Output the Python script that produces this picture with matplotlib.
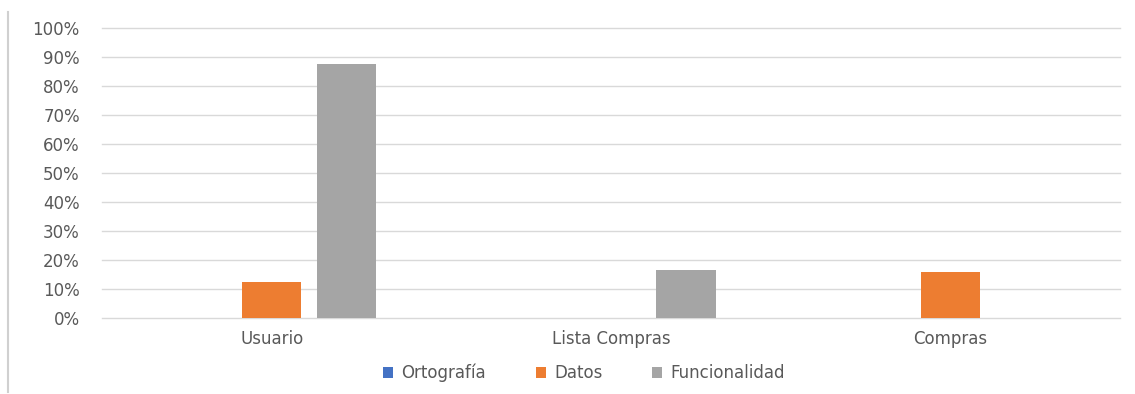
import matplotlib.pyplot as plt
import numpy as np
from matplotlib.lines import Line2D
from matplotlib.ticker import PercentFormatter

categories = ["Usuario", "Lista Compras", "Compras"]
ortografia = [0.0, 0.0, 0.0]
datos = [0.125, 0.0, 0.16]
funcionalidad = [0.875, 0.167, 0.0]

series = [("Ortografía", ortografia, "#4472C4"),
          ("Datos", datos, "#ED7D31"),
          ("Funcionalidad", funcionalidad, "#A5A5A5")]

text_color = "#595959"
plt.rcParams["font.family"] = ["DejaVu Sans"]

fig = plt.figure(figsize=(11.35, 3.94), dpi=100)
ax = fig.add_axes([0.0899, 0.193, 0.8969, 0.736])

x = np.arange(len(categories))
width = 0.174
offset = 0.221
for i, (name, vals, color) in enumerate(series):
    ax.bar(x + (i - 1) * offset, vals, width, color=color, label=name, zorder=3)

ax.set_xlim(-0.5, 2.5)
ax.set_ylim(0, 1)
ax.set_yticks(np.arange(0, 1.01, 0.1))
ax.yaxis.set_major_formatter(PercentFormatter(1.0, decimals=0))
ax.set_xticks(x)
ax.set_xticklabels(categories)
ax.grid(axis="y", color="#d9d9d9", linewidth=1, zorder=0)
for line in ax.get_ygridlines():
    line.set_clip_on(False)
for s in ax.spines.values():
    s.set_visible(False)
ax.tick_params(length=0, colors=text_color, labelsize=12)
ax.tick_params(axis="y", pad=16)
ax.tick_params(axis="x", pad=9)

fig.legend(loc="center", bbox_to_anchor=(584 / 1135, 1 - 373 / 394), ncol=3,
           frameon=False, handlelength=0.6, handleheight=0.6, handletextpad=0.5,
           columnspacing=3.0, labelcolor=text_color, fontsize=12)

# left border line of the original screenshot
fig.add_artist(Line2D([8 / 1135, 8 / 1135], [1 - 392 / 394, 1 - 12 / 394],
                      color="#d0d0d0", linewidth=1.5))

fig.savefig("out.png", dpi=100)
